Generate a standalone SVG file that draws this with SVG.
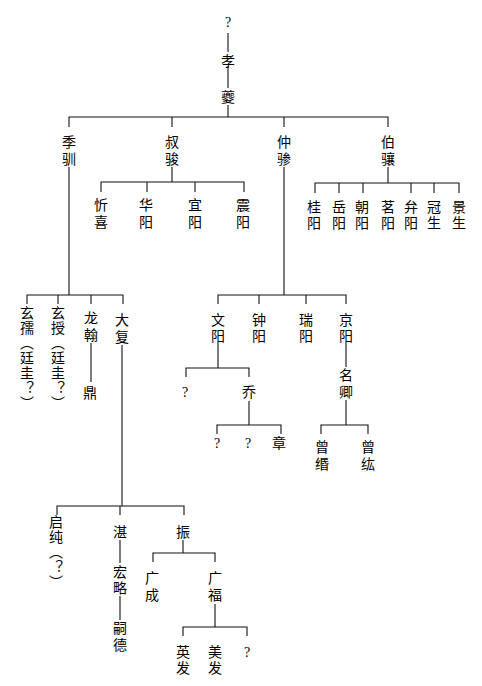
<svg xmlns="http://www.w3.org/2000/svg" width="482" height="686" viewBox="0 0 482 686">
<style>
text{font-family:"Noto Sans CJK SC","Noto Sans CJK TC",sans-serif;font-size:14px;fill:#000;text-anchor:middle}
text.q{font-family:"Liberation Serif",serif;font-size:14px}
text.v{writing-mode:vertical-rl;text-anchor:start;letter-spacing:3px}
text.v2{letter-spacing:2px}
text.v1{letter-spacing:1px}
#connectors path{stroke:#111;stroke-width:1.1;fill:none}
</style>
<rect width="482" height="686" fill="#fff"/>
<g id="connectors">
<path d="M228 33V52M228 66V88M228 105V117"/>
<path d="M69 127V117H388V127M172 117V127M284 117V127"/>
<path d="M172 167V182M101 192V182H244V192M147 182V192M195 182V192"/>
<path d="M388 167V183M315 193V183H459V193M339 183V193M363 183V193M411 183V193M434 183V193"/>
<path d="M69 167V295M27 304V295H123V304M58 295V304M91 295V304"/>
<path d="M284 167V295M218 304V295H346V304M259 295V304M306 295V304"/>
<path d="M91 343V382"/>
<path d="M122 345V506M57 515V506H184V515M120 506V515"/>
<path d="M218 343V368M186 377V368H249V377"/>
<path d="M249 401V425M217 434V425H281V434"/>
<path d="M346 343V367M346 400V425M321 434V425H368V434"/>
<path d="M120 540V563M120 596V620"/>
<path d="M183 540V553M153 562V553H215V562"/>
<path d="M215 604V627M183 636V627H247V636"/>
</g>
<g id="n_top_q"><text class="q" x="228" y="27">?</text></g>
<g id="n_xiao"><text x="228" y="66">孝</text></g>
<g id="n_kui"><text x="228" y="102">夔</text></g>
<g id="n_jixun"><text class="v" x="69" y="135">季驯</text></g>
<g id="n_shujun"><text class="v" x="172" y="135">叔骏</text></g>
<g id="n_zhongcan"><text class="v" x="284" y="135">仲骖</text></g>
<g id="n_boxiang"><text class="v" x="388" y="135">伯骧</text></g>
<g id="n_xinxi"><text class="v" x="101" y="198">忻喜</text></g>
<g id="n_huayang"><text class="v" x="146" y="198">华阳</text></g>
<g id="n_yiyang"><text class="v" x="195" y="198">宜阳</text></g>
<g id="n_zhenyang"><text class="v" x="243" y="198">震阳</text></g>
<g id="n_guiyang"><text class="v v2" x="314" y="200">桂阳</text></g>
<g id="n_yueyang"><text class="v v2" x="339" y="200">岳阳</text></g>
<g id="n_chaoyang"><text class="v v2" x="362" y="200">朝阳</text></g>
<g id="n_mingyang"><text class="v v2" x="388" y="200">茗阳</text></g>
<g id="n_bianyang"><text class="v v2" x="411" y="200">弁阳</text></g>
<g id="n_guansheng"><text class="v v2" x="434" y="200">冠生</text></g>
<g id="n_jingsheng"><text class="v v2" x="459" y="200">景生</text></g>
<g id="n_xuanru"><text class="v v1" x="27" y="306">玄孺（廷圭？）</text></g>
<g id="n_xuanshou"><text class="v v1" x="58" y="306">玄授（廷圭？）</text></g>
<g id="n_longhan"><text class="v" x="91" y="311">龙翰</text></g>
<g id="n_ding"><text x="90" y="398">鼎</text></g>
<g id="n_dafu"><text class="v" x="122" y="313">大复</text></g>
<g id="n_wenyang"><text class="v v2" x="218" y="313">文阳</text></g>
<g id="n_zhongyang"><text class="v v2" x="259" y="313">钟阳</text></g>
<g id="n_ruiyang"><text class="v v2" x="306" y="313">瑞阳</text></g>
<g id="n_jingyang"><text class="v v2" x="346" y="313">京阳</text></g>
<g id="n_wen_q"><text class="q" x="185" y="397">?</text></g>
<g id="n_qiao"><text x="249" y="397">乔</text></g>
<g id="n_mingqing"><text class="v" x="346" y="368">名卿</text></g>
<g id="n_qiao_q1"><text class="q" x="217" y="448">?</text></g>
<g id="n_qiao_q2"><text class="q" x="248" y="448">?</text></g>
<g id="n_zhang"><text x="279" y="448">章</text></g>
<g id="n_zengmin"><text class="v" x="322" y="440">曾缗</text></g>
<g id="n_zenghong"><text class="v" x="368" y="440">曾纮</text></g>
<g id="n_qichun"><text class="v v1" x="56" y="515">启纯（？）</text></g>
<g id="n_zhan"><text x="120" y="537">湛</text></g>
<g id="n_honglue"><text class="v v2" x="120" y="565">宏略</text></g>
<g id="n_side"><text class="v" x="120" y="621">嗣德</text></g>
<g id="n_zhen"><text x="183" y="537">振</text></g>
<g id="n_guangcheng"><text class="v" x="152" y="571">广成</text></g>
<g id="n_guangfu"><text class="v" x="215" y="571">广福</text></g>
<g id="n_yingfa"><text class="v v2" x="183" y="645">英发</text></g>
<g id="n_meifa"><text class="v v2" x="215" y="645">美发</text></g>
<g id="n_fu_q"><text class="q" x="247" y="657">?</text></g>
</svg>
